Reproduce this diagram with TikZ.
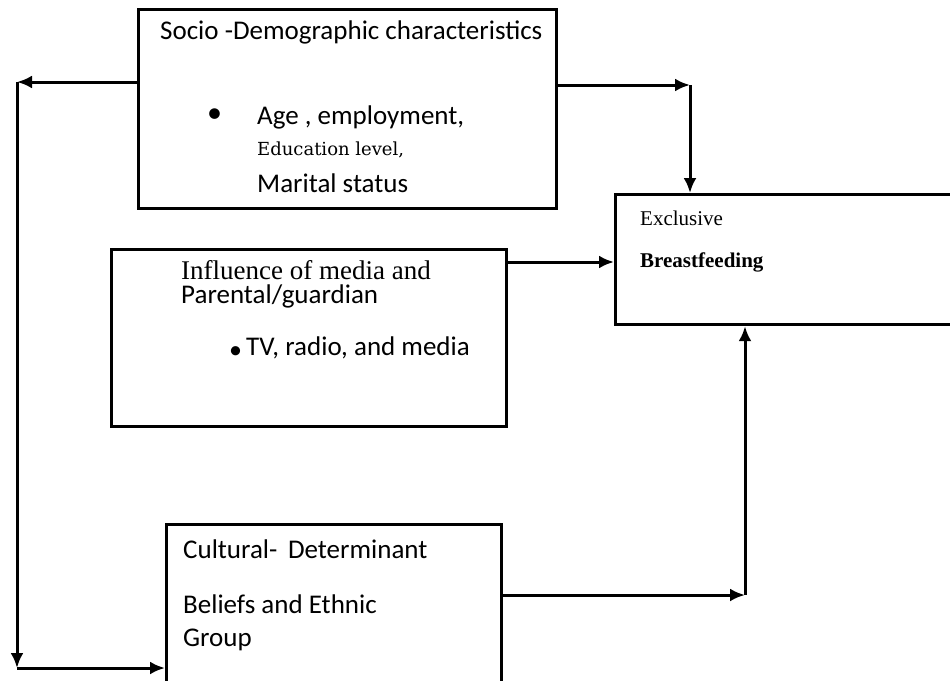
\documentclass[tikz,border=0pt]{standalone}
\usepackage{fontspec}
\setmainfont{Carlito}
\newfontfamily\seriffam{Liberation Serif}
\newfontfamily\edufam{DejaVu Serif}
\usetikzlibrary{positioning,calc,arrows.meta}
\tikzset{
    framebox/.style={rectangle, draw=black, line width=3.2pt, anchor=north west, inner sep=0pt},
    lbl/.style={anchor=west, inner sep=0pt, font=\fontsize{27}{30}\selectfont},
    serlbl/.style={anchor=west, inner sep=0pt, font={\seriffam\fontsize{21}{24}\selectfont}},
    link/.style={draw=black, line width=3pt, -{Latex[length=15pt,width=13pt]}}
}
\begin{document}
\begin{tikzpicture}[x=1pt, y=-1pt,
        % Kich thuoc cac hop
        bigbox/.style={framebox, minimum width=418pt, minimum height=199pt},
        endbox/.style={framebox, minimum width=345pt, minimum height=130pt}
    ]
        \useasboundingbox (0,0) rectangle (950,680);

        % --- CAC HOP ---
        \node[bigbox] (socio) at (137,8) {};
        \node[endbox] (excl) at (614,193) {};
        \node[framebox, minimum width=395pt, minimum height=177pt] (media) at (110,248) {};
        \node[framebox, minimum width=335pt, minimum height=165pt] (cult) at (165,523) {};

        % --- CHU TRONG HOP ---
        % Socio-Demographic
        \node[lbl] (s1) at (160,32) {Socio -Demographic characteristics};
        \node[lbl, font=\fontsize{30}{30}\selectfont] (sb) at (207,116) {•};
        \node[lbl] (s2) at (257,117) {Age , employment,};
        \node[anchor=west, inner sep=0pt, font={\edufam\fontsize{18}{22}\selectfont}] (s3) at (257,150) {Education level,};
        \node[lbl] (s4) at (257,183) {Marital status};
        % Exclusive Breastfeeding
        \node[serlbl] (e1) at (640,218) {Exclusive};
        \node[serlbl, font={\seriffam\bfseries\fontsize{21}{24}\selectfont}] (e2) at (640,262) {Breastfeeding};
        % Media
        \node[serlbl, font={\seriffam\fontsize{27}{28}\selectfont}] (m1) at (181,270) {Influence of media and};
        \node[lbl] (m2) at (181,296) {Parental/guardian};
        \node[lbl, font=\fontsize{26}{26}\selectfont] (mb) at (229,353) {•};
        \node[lbl] (m3) at (246,348) {TV, radio, and media};
        % Cultural
        \node[lbl] (c1) at (183,549) {Cultural-\, Determinant};
        \node[lbl] (c2) at (183,604) {Beliefs and Ethnic};
        \node[lbl] (c3) at (183,640) {Group};

        % --- MUI TEN ---
        \coordinate (tl) at (17,82);
        \coordinate (bl) at (17,668);
        \coordinate (tr) at (690,85);
        \coordinate (me) at (505,262);
        \coordinate (br) at (745,595);

        \draw[link] (socio.west |- tl) -- (tl);
        \draw[link] (tl) -- (bl);
        \draw[link] (bl) -- (cult.west |- bl);
        \draw[link] (socio.east |- tr) -- (tr);
        \draw[link] (tr) -- (excl.north -| tr);
        \draw[link] (me) -- (excl.west |- me);
        \draw[link] (cult.east |- br) -- (br);
        \draw[link] (br) -- (excl.south -| br);

    \end{tikzpicture}
\end{document}
